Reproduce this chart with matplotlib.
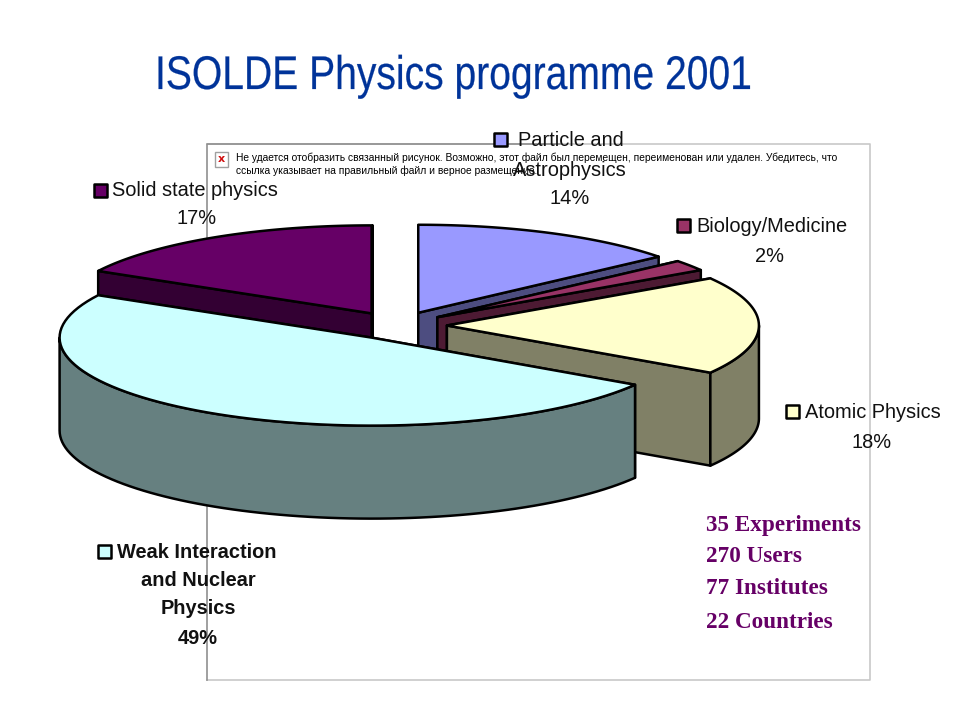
"""
ISOLDE physics programme pie, exploded 3D look
"""
import numpy as np
import matplotlib
matplotlib.use('Agg')
import matplotlib.pyplot as plt
from matplotlib.patches import Polygon, Rectangle
from matplotlib.patheffects import AbstractPathEffect
from matplotlib.transforms import Affine2D

# slices, clockwise from 12 o'clock
categories = ['Particle and Astrophysics', 'Biology/Medicine', 'Atomic Physics',
              'Weak Interaction and Nuclear Physics', 'Solid state physics']
percent = [14, 2, 18, 49, 17]
top_colors = ['#9999FF', '#993366', '#FFFFCC', '#CCFFFF', '#660066']
side_colors = ['#4D4D80', '#4D1A33', '#808066', '#668080', '#330033']
stats = ['35 Experiments', '270 Users', '77 Institutes', '22 Countries']
title = 'ISOLDE Physics programme 2001'
missing_image = ['Не удается отобразить связанный рисунок. Возможно, этот файл был перемещен, '
                 'переименован или удален. Убедитесь, что',
                 'ссылка указывает на правильный файл и верное размещение.']

# pie geometry in figure pixels
CX, CY = 397, 325.5
RX, RY = 312, 88
DEPTH = 93
EXPLODE = 0.16
EDGE = dict(edgecolor='black', linewidth=1.8, joinstyle='round')


class Squeeze(AbstractPathEffect):
    # narrow the glyphs sideways, there is no Arial Narrow here
    def __init__(self, x_pixel, factor, stroke):
        super().__init__()
        self.x_pixel = x_pixel
        self.factor = factor
        self.stroke = stroke

    def draw_path(self, renderer, gc, tpath, affine, rgbFace=None):
        squeeze = Affine2D().translate(-self.x_pixel, 0).scale(self.factor, 1).translate(self.x_pixel, 0)
        gc0 = renderer.new_gc()
        gc0.copy_properties(gc)
        gc0.set_linewidth(self.stroke)  # squeezing thins the stems, thicken them again
        gc0.set_foreground(rgbFace)
        renderer.draw_path(gc0, tpath, affine + squeeze, rgbFace)
        gc0.restore()


fig = plt.figure(figsize=(9.6, 7.2), dpi=100)
ax = fig.add_axes([0, 0, 1, 1])
ax.set_xlim(0, 960)
ax.set_ylim(720, 0)
ax.axis('off')


def rim_points(x0, y0, a0, a1):
    angles = np.radians(np.linspace(a0, a1, 80))
    return np.column_stack([x0 + RX * np.sin(angles), y0 - RY * np.cos(angles)])


def draw_slice(i, start, end):
    mid = np.radians((start + end) / 2)
    x0 = CX + EXPLODE * RX * np.sin(mid)
    y0 = CY - EXPLODE * RY * np.cos(mid)
    shift = np.array([0, DEPTH])

    # the two cut faces
    for a in (start, end):
        p = rim_points(x0, y0, a, a)[0]
        quad = [(x0, y0), p, p + shift, (x0, y0 + DEPTH)]
        ax.add_patch(Polygon(quad, facecolor=side_colors[i], zorder=2, **EDGE))

    # outer wall, only the part turned towards the viewer
    a0, a1 = max(start, 90), min(end, 270)
    if a1 > a0:
        rim = rim_points(x0, y0, a0, a1)
        wall = np.vstack([rim, rim[::-1] + shift])
        ax.add_patch(Polygon(wall, facecolor=side_colors[i], zorder=2, **EDGE))

    # top face
    top = np.vstack([[(x0, y0)], rim_points(x0, y0, start, end)])
    ax.add_patch(Polygon(top, facecolor=top_colors[i], zorder=2, **EDGE))


# placeholder frame behind the chart
ax.plot([207, 870, 870, 207], [144, 144, 680, 680], color='#C8C8C8', lw=1.2, zorder=1)
ax.plot([207, 207, 560], [680, 144, 144], color='#909090', lw=1.2, zorder=1)
ax.add_patch(Rectangle((215, 152), 13, 15, facecolor='white', edgecolor='#A0A0A0', lw=1, zorder=1))
ax.text(221.5, 159, 'x', color='#D01010', fontsize=8, fontweight='bold', family='DejaVu Sans',
        ha='center', va='center', zorder=1)
for line, y in zip(missing_image, [157.5, 170.5]):
    ax.text(236, y, line, fontsize=7.35, family='Liberation Sans', ha='left', va='center', zorder=1)

# slices, back to front
edges = np.cumsum([0] + percent) * 3.6
for i in [0, 1, 2, 4, 3]:
    draw_slice(i, edges[i], edges[i + 1])

title_text = ax.text(155, 77, title, color='#003399', fontsize=34, family='Liberation Sans',
                     ha='left', va='center')
title_text.set_path_effects([Squeeze(155, 0.827, 0.15)])

# data labels
label_font = dict(fontsize=14.4, family='Liberation Sans', va='center', zorder=4, color='#111111')
ax.text(518, 141, 'Particle and', ha='left', **label_font)
ax.text(570, 170, 'Astrophysics', ha='center', **label_font)
ax.text(570, 199, f'{percent[0]}%', ha='center', **label_font)
ax.text(696, 227, categories[1], ha='left', **label_font)
ax.text(770, 256, f'{percent[1]}%', ha='center', **label_font)
ax.text(805, 412, categories[2], ha='left', **label_font)
ax.text(872, 442, f'{percent[2]}%', ha='center', **label_font)
ax.text(112, 191, categories[4], ha='left', **label_font)
ax.text(197, 219, f'{percent[4]}%', ha='center', **label_font)

bold_font = dict(label_font, fontweight='bold')
ax.text(117, 552, 'Weak Interaction', ha='left', **bold_font)
ax.text(198, 580, 'and Nuclear', ha='center', **bold_font)
ax.text(198, 609, 'Physics', ha='center', **bold_font)
ax.text(198, 639, f'{percent[3]}%', ha='center', **bold_font)

# legend keys next to the labels
key_pos = [(494, 133), (677, 219), (786, 405), (98, 545), (94, 184)]
for i, (kx, ky) in enumerate(key_pos):
    ax.add_patch(Rectangle((kx, ky), 12.5, 13, facecolor=top_colors[i], zorder=4, **EDGE))

# summary numbers
for line, y in zip(stats, [525, 557, 589, 622]):
    ax.text(706, y, line, color='#660066', fontsize=16.7, fontweight='bold', family='Liberation Serif',
            ha='left', va='center', zorder=4)

fig.savefig('out.png', dpi=100, facecolor='white')
